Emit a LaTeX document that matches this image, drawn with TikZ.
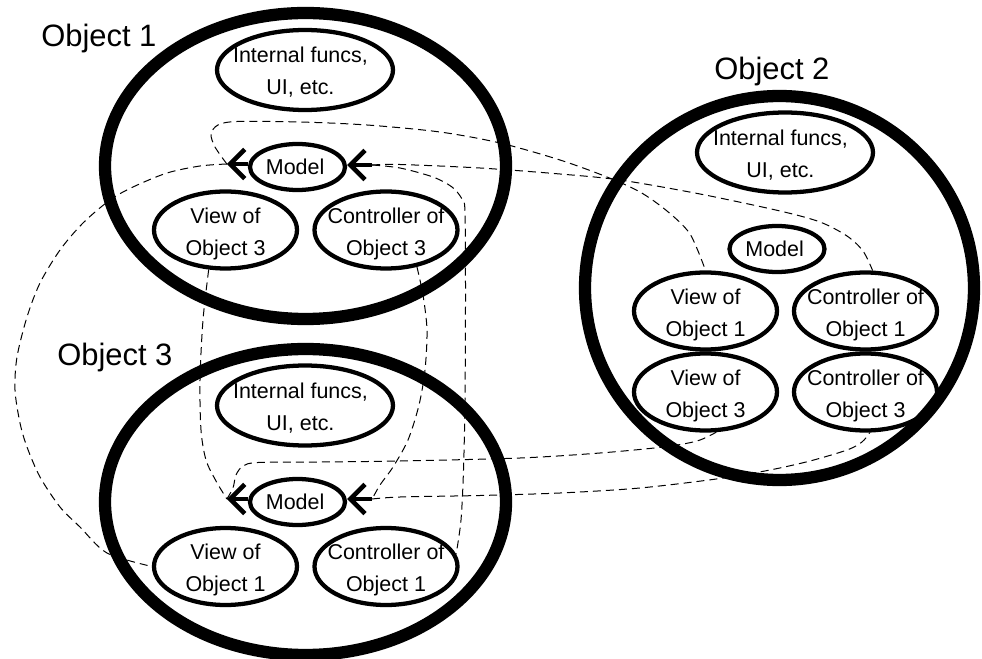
\documentclass[tikz,border=0pt]{standalone}
\usepackage{fontspec}
\setmainfont{Liberation Sans}
\usetikzlibrary{shapes.geometric, arrows.meta}
\begin{document}
\begin{tikzpicture}[x=0.75pt, y=-0.75pt,
  bigobj/.style={draw, ellipse, line width=9.2pt, inner sep=0pt, outer sep=0pt},
  o13/.style={bigobj, minimum width=300.75pt, minimum height=229.5pt},
  o2s/.style={bigobj, minimum width=291.75pt, minimum height=288pt},
  part/.style={draw, ellipse, line width=3.2pt, inner sep=0pt},
  intl/.style={part, minimum width=132pt, minimum height=60pt},
  mdl/.style={part, minimum width=71.25pt, minimum height=34.5pt},
  vc/.style={part, minimum width=107.25pt, minimum height=57.75pt},
  lbl/.style={align=center, inner sep=0pt, font=\fontsize{16.1}{24}\selectfont},
  ilbl/.style={lbl, xshift=-3.4pt, yshift=-1.9pt},
  vlbl/.style={lbl, yshift=-2.6pt},
  mlbl/.style={lbl, xshift=-1.8pt},
  title/.style={anchor=base west, inner sep=0pt, font=\fontsize{23.2}{27}\selectfont},
  marrow/.style={line width=3.2pt, -{Straight Barb[length=11pt,width=22pt,line width=3.4pt]}},
  dep/.style={line width=0.75pt, dash pattern=on 6pt off 3.75pt}
]
\useasboundingbox (0,0) rectangle (982,659);

% titles
\node[title] (t1) at (41,46.7) {Object 1};
\node[title] (t3) at (57,366) {Object 3};
\node[title] (t2) at (714,80) {Object 2};

% texts (drawn under the outlines)
\node[ilbl] (o1it) at (305,70) {Internal funcs,\\UI, etc.};
\node[mlbl] (o1mt) at (297.5,167) {Model};
\node[vlbl] (o1vt) at (225.5,230) {View of\\Object 3};
\node[vlbl] (o1ct) at (386,230) {Controller of\\Object 3};

\node[ilbl] (o3it) at (305,405.5) {Internal funcs,\\UI, etc.};
\node[mlbl] (o3mt) at (297.5,502) {Model};
\node[vlbl] (o3vt) at (225.5,566.5) {View of\\Object 1};
\node[vlbl] (o3ct) at (386,566.5) {Controller of\\Object 1};

\node[ilbl] (o2it) at (785,152.5) {Internal funcs,\\UI, etc.};
\node[mlbl] (o2mt) at (777,249) {Model};
\node[vlbl] (o2v1t) at (705.5,311) {View of\\Object 1};
\node[vlbl] (o2c1t) at (865.5,311) {Controller of\\Object 1};
\node[vlbl] (o2v3t) at (705.5,392) {View of\\Object 3};
\node[vlbl] (o2c3t) at (865.5,392) {Controller of\\Object 3};

% big objects
\node[o13] (o1) at (305.5,166) {};
\node[o13] (o3) at (305.5,502) {};
\node[o2s] (o2) at (779.5,288) {};

% parts
\node[intl] (o1i) at (305,70) {};
\node[mdl] (m1) at (297.5,167) {};
\node[vc] (o1v3) at (225.5,230) {};
\node[vc] (o1c3) at (386,230) {};

\node[intl] (o3i) at (305,405.5) {};
\node[mdl] (m3) at (297.5,502) {};
\node[vc] (o3v1) at (225.5,566.5) {};
\node[vc] (o3c1) at (386,566.5) {};

\node[intl] (o2i) at (785,152.5) {};
\node[mdl] (m2) at (777,249) {};
\node[vc] (o2v1) at (705.5,311) {};
\node[vc] (o2c1) at (865.5,311) {};
\node[vc] (o2v3) at (705.5,392) {};
\node[vc] (o2c3) at (865.5,392) {};

% model arrows
\coordinate (m1L) at ([shift={(-21,-3)}]m1.west);
\coordinate (m1R) at ([shift={(25,-2)}]m1.east);
\coordinate (m3L) at ([shift={(-21,-3)}]m3.west);
\coordinate (m3R) at ([shift={(25,-3)}]m3.east);
\draw[marrow] ([shift={(0,-3)}]m1.west) -- (m1L);
\draw[marrow] (m1R) -- ([shift={(0,-2)}]m1.east);
\draw[marrow] ([shift={(0,-3)}]m3.west) -- (m3L);
\draw[marrow] (m3R) -- ([shift={(0,-3)}]m3.east);

% dependencies
% Model 1 -> View of Object 1 in Object 3
\draw[dep] plot[smooth] coordinates {(m1L) (200,166) (167,173) (133,187) (110,200) (83,223) (60,250) (40,283) (27,317) (17,357) (15,390) (20,423) (27,447) (40,477) (60,507) (80,527) (107,553) (o3v1.west)};
% Model 1 -> View of Object 1 in Object 2
\draw[dep] plot[smooth] coordinates {(m1L) (215,147) (211,134) (218,125) (237,121.5) (300,122) (367,125) (440,132) (500,143) (560,160) (607,177) (640,192) (667,211) (690,234) (o2v1.north)};
% Controller of Object 1 in Object 2 -> Model 1
\draw[dep] plot[smooth] coordinates {(m1R) (400,164.5) (480,168) (560,174) (620,180) (700,194) (780,211) (820,222) (847,236) (863,251) (o2c1.80)};
% Controller of Object 1 in Object 3 -> Model 1
\draw[dep] plot[smooth] coordinates {(m1R) (400,168) (433,177) (452,187) (462,199) (465,212) (465.5,300) (465,400) (463.5,470) (461,520) (o3c1.10)};
% Model 3 -> View of Object 3 in Object 1
\draw[dep] plot[smooth] coordinates {(o1v3.247) (203,320) (200,380) (201,430) (206,460) (216,481) (m3L)};
% Controller of Object 3 in Object 1 -> Model 3
\draw[dep] plot[smooth] coordinates {(o1c3.310) (423,295) (427,330) (425,370) (419,405) (408,440) (393,467) (380,485) (m3R)};
% Model 3 -> View of Object 3 in Object 2
\draw[dep] plot[smooth] coordinates {(m3L) (233,488) (236,475) (243,466) (258,462.5) (320,462) (400,461) (520,458) (600,453) (663,447) (697,441) (o2v3.285)};
% Controller of Object 3 in Object 2 -> Model 3
\draw[dep] plot[smooth] coordinates {(m3R) (400,497) (480,495.5) (560,493) (640,488) (720,478.5) (770,470) (810,461) (847,450) (862,442) (o2c3.276)};
\end{tikzpicture}
\end{document}
